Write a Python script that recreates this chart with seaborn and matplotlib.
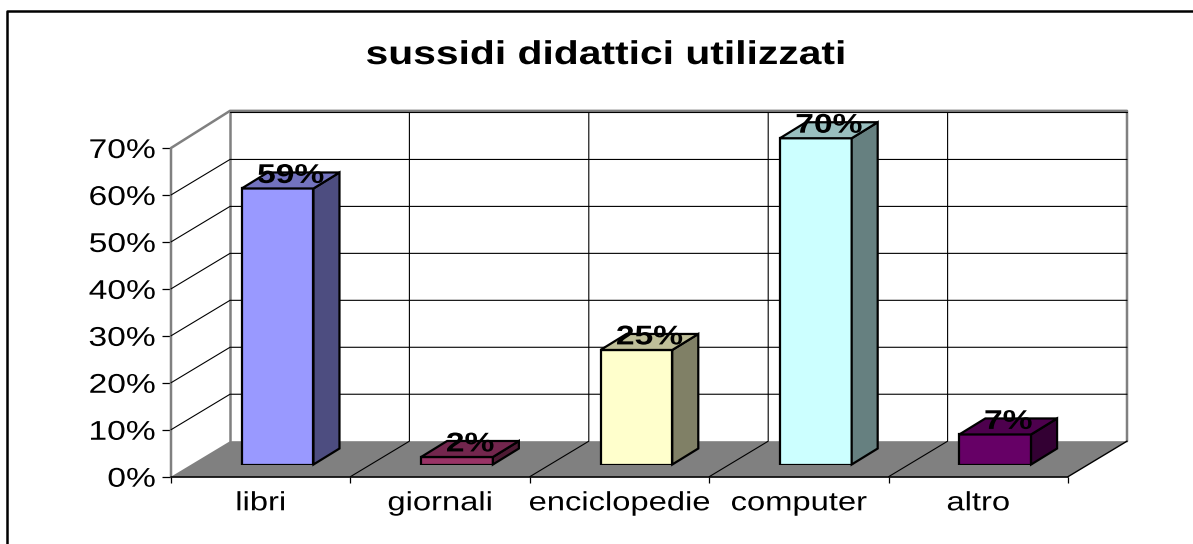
#!/usr/bin/env python
"""Excel-style 3D column chart of teaching aids used."""

from __future__ import annotations

import matplotlib

matplotlib.use("Agg")
import matplotlib.pyplot as plt
import seaborn as sns
from matplotlib.lines import Line2D
from matplotlib.patches import Polygon
from matplotlib.patheffects import AbstractPathEffect
from matplotlib.transforms import Affine2D

TITLE = "sussidi didattici utilizzati"
CATEGORIES = ["libri", "giornali", "enciclopedie", "computer", "altro"]
VALUES = [58.8, 1.6, 24.4, 69.5, 6.4]
VALUE_LABELS = ["59%", "2%", "25%", "70%", "7%"]
Y_TICKS = [0, 10, 20, 30, 40, 50, 60, 70]
FRONT_COLORS = ["#9999FF", "#993366", "#FFFFCC", "#CCFFFF", "#660066"]
SIDE_COLORS = ["#4D4D80", "#4D1A33", "#808066", "#668080", "#330033"]
TOP_COLORS = ["#7373BF", "#73264D", "#BFBF99", "#99BFBF", "#4D004D"]

W, H = 1193, 544
# the source image is stretched sideways, so glyphs are too
TEXT_STRETCH = 1.24
CAT_PX = 179.4
PCT_PX = 4.695
WALL_DX = 59 / CAT_PX
WALL_DY = 35.5 / PCT_PX
BAR_DX = 26 / CAT_PX
BAR_DY = 16 / PCT_PX
FRAME_GAP = 0.35


class WidenText(AbstractPathEffect):
    def __init__(self, factor: float, anchor: str = "center") -> None:
        super().__init__()
        self.factor = factor
        self.anchor = anchor

    def draw_path(self, renderer, gc, tpath, affine, rgbFace=None):
        box = tpath.get_extents(affine)
        x = box.x1 if self.anchor == "right" else (box.x0 + box.x1) / 2
        stretch = Affine2D().translate(-x, 0).scale(self.factor, 1).translate(x, 0)
        renderer.draw_path(gc, tpath, affine + stretch, rgbFace)


def px_axes(fig, left, top, right, bottom):
    return fig.add_axes([left / W, 1 - bottom / H, (right - left) / W, (bottom - top) / H])


def draw_walls(ax) -> None:
    x0, x1 = -0.5, len(CATEGORIES) - 0.5
    top = Y_TICKS[-1]
    floor = [(x0, 0), (x1, 0), (x1 + WALL_DX, WALL_DY), (x0 + WALL_DX, WALL_DY)]
    ax.add_patch(Polygon(floor, facecolor="#808080", edgecolor="none", clip_on=False, zorder=1))

    # grey frame of the two walls, just outside the top gridline
    frame_top = top + WALL_DY + FRAME_GAP
    ax.plot([x0, x0, x0 + WALL_DX, x1 + WALL_DX, x1 + WALL_DX],
            [0, top, frame_top, frame_top, WALL_DY],
            color="#808080", lw=1.8, clip_on=False, zorder=2)
    ax.plot([x0 + WALL_DX, x0 + WALL_DX], [WALL_DY, frame_top],
            color="#808080", lw=1.8, clip_on=False, zorder=2)

    for y in Y_TICKS[1:-1]:
        ax.plot([x0, x0 + WALL_DX, x1 + WALL_DX], [y, y + WALL_DY, y + WALL_DY],
                color="black", lw=0.8, clip_on=False, zorder=3)
    ax.plot([x0 + WALL_DX, x1 + WALL_DX], [top + WALL_DY, top + WALL_DY],
            color="black", lw=0.8, clip_on=False, zorder=3)
    for i in range(1, len(CATEGORIES)):
        ax.plot([x0 + i, x0 + i + WALL_DX, x0 + i + WALL_DX], [0, WALL_DY, top + WALL_DY],
                color="black", lw=0.8, clip_on=False, zorder=3)
    ax.plot([x1, x1 + WALL_DX], [0, WALL_DY], color="black", lw=1, clip_on=False, zorder=3)
    ax.plot([x0, x1], [0, 0], color="black", lw=1.2, clip_on=False, zorder=4)


def draw_bars(ax) -> None:
    sns.barplot(
        x=CATEGORIES,
        y=VALUES,
        hue=CATEGORIES,
        palette=FRONT_COLORS,
        saturation=1,
        legend=False,
        width=0.4,
        edgecolor="black",
        linewidth=1.6,
        ax=ax,
    )
    for bar, side, top, value, label in zip(ax.patches, SIDE_COLORS, TOP_COLORS, VALUES, VALUE_LABELS):
        left, right = bar.get_x(), bar.get_x() + bar.get_width()
        side_pts = [(right, 0), (right + BAR_DX, BAR_DY), (right + BAR_DX, value + BAR_DY), (right, value)]
        top_pts = [(left, value), (right, value), (right + BAR_DX, value + BAR_DY), (left + BAR_DX, value + BAR_DY)]
        for pts, color in ((side_pts, side), (top_pts, top)):
            ax.add_patch(Polygon(pts, facecolor=color, edgecolor="black", lw=1.6,
                                 joinstyle="miter", clip_on=False, zorder=1))
        ax.annotate(
            label,
            ((left + right) / 2, value),
            xytext=(9.5, 4),
            textcoords="offset points",
            ha="center",
            va="baseline",
            fontsize=19.5,
            fontweight="bold",
            color="black",
            path_effects=[WidenText(TEXT_STRETCH)],
            annotation_clip=False,
            zorder=5,
        )


def main() -> int:
    sns.set_theme(style="white")
    plt.rcParams["font.family"] = ["Liberation Sans", "DejaVu Sans"]

    fig = plt.figure(figsize=(W / 100, H / 100), dpi=100, facecolor="white")
    # only the top and left edges of the outer frame are in the image
    fig.add_artist(Line2D([7 / W, 7 / W, 1 / W + 1], [0, 1 - 11 / H, 1 - 11 / H], transform=fig.transFigure,
                          color="black", lw=1.8, zorder=-1))

    # front plane of the chart box carries the ticks
    ax = px_axes(fig, 171, 148, 1068, 476.7)
    ax.set_xlim(-0.5, len(CATEGORIES) - 0.5)
    ax.set_ylim(0, Y_TICKS[-1])
    ax.patch.set_visible(False)
    sns.despine(ax=ax, left=True, bottom=True, top=True, right=True)
    draw_walls(ax)

    ax.set_yticks(Y_TICKS)
    ax.set_yticklabels([f"{t}%" for t in Y_TICKS], fontsize=19.5, ha="right",
                       path_effects=[WidenText(TEXT_STRETCH, "right")])
    ax.tick_params(axis="y", length=6.5, width=0.9, color="black", pad=4.5, labelcolor="black", left=True)
    ax.set_xticks(range(len(CATEGORIES)))
    ax.set_xticklabels(CATEGORIES, fontsize=19, path_effects=[WidenText(TEXT_STRETCH)])
    ax.tick_params(axis="x", length=0, pad=10.5, labelcolor="black")
    ax.set_xticks([i - 0.5 for i in range(len(CATEGORIES) + 1)], minor=True)
    ax.tick_params(axis="x", which="minor", length=4.5, width=0.9, color="black", bottom=True)

    # bars stand a little behind the front plane
    bar_ax = px_axes(fig, 187.9, 135.9, 1084.9, 464.5)
    bar_ax.patch.set_visible(False)
    draw_bars(bar_ax)
    bar_ax.set_xlim(-0.5, len(CATEGORIES) - 0.5)
    bar_ax.set_ylim(0, Y_TICKS[-1])
    bar_ax.axis("off")

    fig.text(605.5 / W, 1 - 64 / H, TITLE, ha="center", va="baseline", fontsize=23.7, fontweight="bold",
             color="black", path_effects=[WidenText(TEXT_STRETCH)])

    fig.savefig("out.png", dpi=100)
    plt.close(fig)
    return 0


if __name__ == "__main__":
    raise SystemExit(main())
